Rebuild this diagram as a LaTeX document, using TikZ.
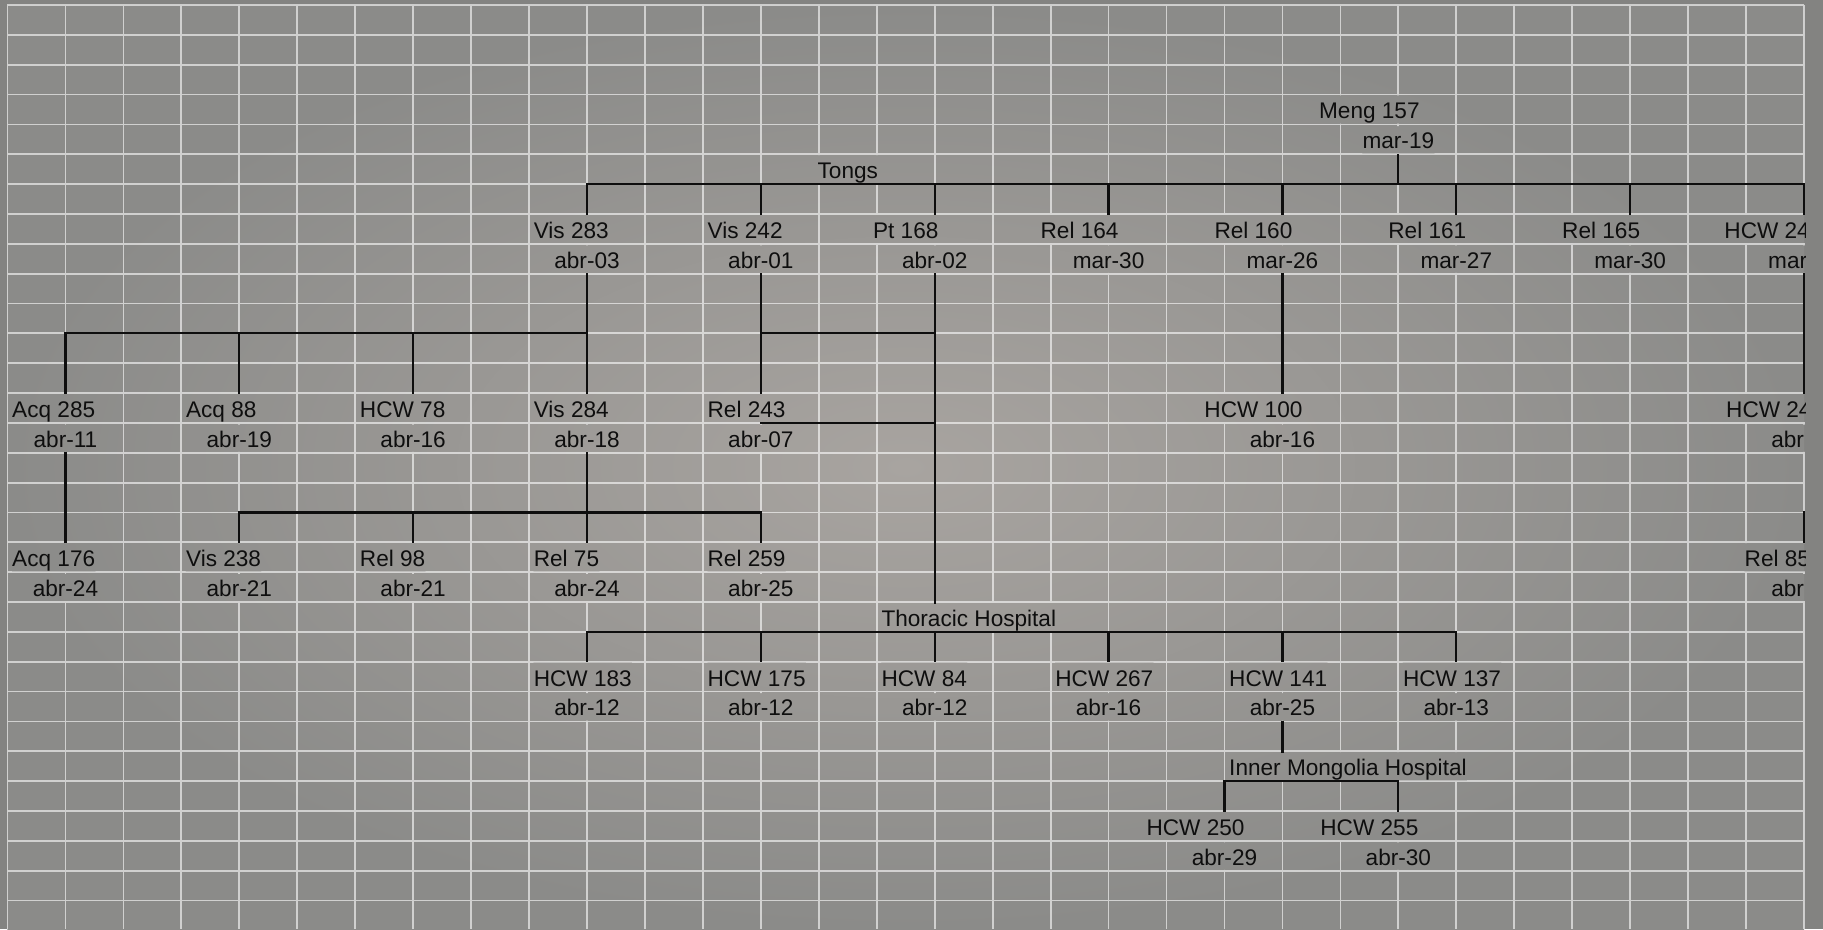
\documentclass[tikz,border=0pt]{standalone}
\usepackage{fontspec}
\setmainfont{Liberation Sans}
\usepackage{xcolor}
\usepackage{tikz}
\usetikzlibrary{backgrounds}
\definecolor{sheetin}{RGB}{168,164,160}
\definecolor{sheetout}{RGB}{139,139,137}
\definecolor{frame}{RGB}{131,131,129}
\definecolor{ink}{HTML}{0E0E0E}

\begin{document}
\begin{tikzpicture}[
    x=28.975pt, y=-14.925pt,
    namecell/.style={inner sep=0pt, text=ink, font=\fontsize{11.3}{13}\selectfont, text height=11.575pt, text depth=2.15pt},
    datecell/.style={inner sep=0pt, text=ink, font=\fontsize{11.3}{13}\selectfont, text height=27.1pt, text depth=2.75pt},
    link/.style={ink, line width=1.1pt, line cap=rect},
    gridline/.style={white, opacity=0.6, line width=0.9pt},
]
    \useasboundingbox (-0.1294,-0.1675) rectangle (31.328,30.955);

    \begin{scope}
    \clip (-0.1294,-0.1675) rectangle (31.02,30.955);

    % Meng 157 and the Tongs cluster
    \node[namecell] (meng157n) at (23.5,3.5) {Meng 157};
    \node[datecell] (meng157) at (24,4) {mar-19};
    \node[namecell] (tongs) at (14.5,5.5) {Tongs};
    \coordinate (tongsL) at (10,6);
    \coordinate (tongsR) at (31,6);

    \node[namecell, anchor=west] (vis283n) at (9.075,7.5) {Vis 283};
    \node[datecell] (vis283) at (10,8) {abr-03};
    \node[namecell, anchor=west] (vis242n) at (12.075,7.5) {Vis 242};
    \node[datecell] (vis242) at (13,8) {abr-01};
    \node[namecell] (pt168n) at (15.5,7.5) {Pt 168};
    \node[datecell] (pt168) at (16,8) {abr-02};
    \node[namecell] (rel164n) at (18.5,7.5) {Rel 164};
    \node[datecell] (rel164) at (19,8) {mar-30};
    \node[namecell] (rel160n) at (21.5,7.5) {Rel 160};
    \node[datecell] (rel160) at (22,8) {mar-26};
    \node[namecell] (rel161n) at (24.5,7.5) {Rel 161};
    \node[datecell] (rel161) at (25,8) {mar-27};
    \node[namecell] (rel165n) at (27.5,7.5) {Rel 165};
    \node[datecell] (rel165) at (28,8) {mar-30};
    \node[namecell, anchor=west] (hcw24an) at (29.62,7.5) {HCW 24};
    \node[datecell] (hcw24a) at (31,8) {mar\phantom{-00}};

    % third row
    \node[namecell, anchor=west] (acq285n) at (0.075,13.5) {Acq 285};
    \node[datecell] (acq285) at (1,14) {abr-11};
    \node[namecell, anchor=west] (acq88n) at (3.075,13.5) {Acq 88};
    \node[datecell] (acq88) at (4,14) {abr-19};
    \node[namecell, anchor=west] (hcw78n) at (6.075,13.5) {HCW 78};
    \node[datecell] (hcw78) at (7,14) {abr-16};
    \node[namecell, anchor=west] (vis284n) at (9.075,13.5) {Vis 284};
    \node[datecell] (vis284) at (10,14) {abr-18};
    \node[namecell, anchor=west] (rel243n) at (12.075,13.5) {Rel 243};
    \node[datecell] (rel243) at (13,14) {abr-07};
    \node[namecell] (hcw100n) at (21.5,13.5) {HCW 100};
    \node[datecell] (hcw100) at (22,14) {abr-16};
    \node[namecell, anchor=west] (hcw24bn) at (29.65,13.5) {HCW 24};
    \node[datecell] (hcw24b) at (31,14) {abr\phantom{-00}};

    % fourth row
    \node[namecell, anchor=west] (acq176n) at (0.075,18.5) {Acq 176};
    \node[datecell] (acq176) at (1,19) {abr-24};
    \node[namecell, anchor=west] (vis238n) at (3.075,18.5) {Vis 238};
    \node[datecell] (vis238) at (4,19) {abr-21};
    \node[namecell, anchor=west] (rel98n) at (6.075,18.5) {Rel 98};
    \node[datecell] (rel98) at (7,19) {abr-21};
    \node[namecell, anchor=west] (rel75n) at (9.075,18.5) {Rel 75};
    \node[datecell] (rel75) at (10,19) {abr-24};
    \node[namecell, anchor=west] (rel259n) at (12.075,18.5) {Rel 259};
    \node[datecell] (rel259) at (13,19) {abr-25};
    \node[namecell, anchor=west] (rel85n) at (29.97,18.5) {Rel 85};
    \node[datecell] (rel85) at (31,19) {abr\phantom{-00}};
    \coordinate (rel85top) at (31,17);

    % Thoracic Hospital
    \node[namecell, anchor=west] (thoracic) at (15.075,20.5) {Thoracic Hospital};
    \coordinate (thorL) at (10,21);
    \coordinate (thorR) at (25,21);
    \node[namecell, anchor=west] (hcw183n) at (9.075,22.5) {HCW 183};
    \node[datecell] (hcw183) at (10,23) {abr-12};
    \node[namecell, anchor=west] (hcw175n) at (12.075,22.5) {HCW 175};
    \node[datecell] (hcw175) at (13,23) {abr-12};
    \node[namecell, anchor=west] (hcw84n) at (15.075,22.5) {HCW 84};
    \node[datecell] (hcw84) at (16,23) {abr-12};
    \node[namecell, anchor=west] (hcw267n) at (18.075,22.5) {HCW 267};
    \node[datecell] (hcw267) at (19,23) {abr-16};
    \node[namecell, anchor=west] (hcw141n) at (21.075,22.5) {HCW 141};
    \node[datecell] (hcw141) at (22,23) {abr-25};
    \node[namecell, anchor=west] (hcw137n) at (24.075,22.5) {HCW 137};
    \node[datecell] (hcw137) at (25,23) {abr-13};

    % Inner Mongolia Hospital
    \node[namecell, anchor=west] (inner) at (21.075,25.5) {Inner Mongolia Hospital};
    \coordinate (innerL) at (21,26);
    \coordinate (innerR) at (24,26);
    \node[namecell] (hcw250n) at (20.5,27.5) {HCW 250};
    \node[datecell] (hcw250) at (21,28) {abr-29};
    \node[namecell] (hcw255n) at (23.5,27.5) {HCW 255};
    \node[datecell] (hcw255) at (24,28) {abr-30};

    % links
    \coordinate (vis283L) at (1,11);
    \coordinate (vis284L) at (4,17);
    \coordinate (vis284R) at (13,17);
    \draw[link] (meng157.south) -- (meng157.south |- tongsL);
    \draw[link] (tongsL) -- (tongsR);
    \draw[link] (vis283 |- tongsL) -- (vis283.north) (vis242 |- tongsL) -- (vis242.north)
        (pt168 |- tongsL) -- (pt168.north) (rel164 |- tongsL) -- (rel164.north)
        (rel160 |- tongsL) -- (rel160.north) (rel161 |- tongsL) -- (rel161.north)
        (rel165 |- tongsL) -- (rel165.north) (hcw24a |- tongsL) -- (hcw24a.north);
    \draw[link] (vis283.south) -- (vis284.north);
    \draw[link] (vis283L) -- (vis283 |- vis283L);
    \draw[link] (acq285 |- vis283L) -- (acq285.north) (acq88 |- vis283L) -- (acq88.north)
        (hcw78 |- vis283L) -- (hcw78.north);
    \draw[link] (vis242.south) -- (rel243.north);
    \draw[link] (vis242 |- vis283L) -- (pt168 |- vis283L);
    \draw[link] (rel243.center) -- (pt168 |- rel243.center);
    \draw[link] (pt168.south) -- (pt168.south |- thoracic.north);
    \draw[link] (rel160.south) -- (hcw100.north);
    \draw[link] (hcw24a.south) -- (hcw24b.north);
    \draw[link] (acq285.south) -- (acq176.north);
    \draw[link] (vis284.south) -- (rel75.north);
    \draw[link] (vis284L) -- (vis284R);
    \draw[link] (vis238 |- vis284L) -- (vis238.north) (rel98 |- vis284L) -- (rel98.north)
        (rel259 |- vis284L) -- (rel259.north);
    \draw[link] (rel85top) -- (rel85.north);
    \draw[link] (thorL) -- (thorR);
    \draw[link] (hcw183 |- thorL) -- (hcw183.north) (hcw175 |- thorL) -- (hcw175.north)
        (hcw84 |- thorL) -- (hcw84.north) (hcw267 |- thorL) -- (hcw267.north)
        (hcw141 |- thorL) -- (hcw141.north) (hcw137 |- thorL) -- (hcw137.north);
    \draw[link] (hcw141.south) -- (hcw141.south |- inner.north);
    \draw[link] (innerL) -- (innerR);
    \draw[link] (hcw250 |- innerL) -- (hcw250.north) (hcw255 |- innerL) -- (hcw255.north);
    \end{scope}

    % sheet and its grid
    \begin{scope}[on background layer]
        \fill[frame] (-0.1294,-0.1675) rectangle (31.328,30.955);
        \shade[inner color=sheetin, outer color=sheetout] (0,0) rectangle (31,30.955);
        \begin{scope}[even odd rule]
            \clip (-1,-1) rectangle (32,32)
                \foreach \n in {meng157n,tongs,vis283n,vis242n,pt168n,rel164n,rel160n,rel161n,rel165n,hcw24an,
                    acq285n,acq88n,hcw78n,vis284n,rel243n,hcw100n,hcw24bn,acq176n,vis238n,rel98n,rel75n,rel259n,rel85n,
                    thoracic,hcw183n,hcw175n,hcw84n,hcw267n,hcw141n,hcw137n,inner,hcw250n,hcw255n}
                    {(\n.north west) rectangle (\n.south east)}
                \foreach \n in {meng157,vis283,vis242,pt168,rel164,rel160,rel161,rel165,hcw24a,
                    acq285,acq88,hcw78,vis284,rel243,hcw100,hcw24b,acq176,vis238,rel98,rel75,rel259,rel85,
                    hcw183,hcw175,hcw84,hcw267,hcw141,hcw137,hcw250,hcw255}
                    {([yshift=14.325pt]\n.south west) rectangle ([yshift=0.6pt]\n.south east)};
            \draw[gridline] \foreach \c in {0,...,31} {(\c,0) -- (\c,30.955)}
                \foreach \r in {0,...,30} {(0,\r) -- (31,\r)};
        \end{scope}
    \end{scope}
\end{tikzpicture}
\end{document}
